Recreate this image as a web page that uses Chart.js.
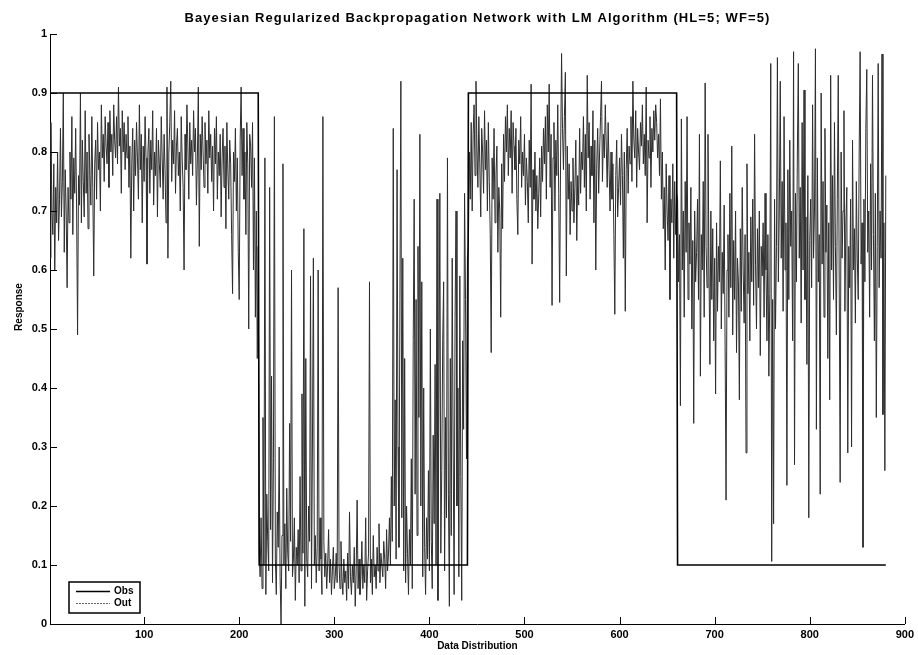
<!DOCTYPE html>
<html><head><meta charset="utf-8">
<script src="https://cdn.jsdelivr.net/npm/chart.js@4.4.1/dist/chart.umd.min.js"></script>
<style>html,body{margin:0;padding:0;background:#fff;}#wrap{width:918px;height:655px;position:relative;}</style>
</head><body><div id="wrap"><canvas id="c" width="918" height="655"></canvas></div>
<script>
const chartTitle = "Bayesian Regularized Backpropagation Network with LM Algorithm (HL=5; WF=5)";
const xTitle = "Data Distribution";
const yTitle = "Response";
const xTicks = [100, 200, 300, 400, 500, 600, 700, 800, 900];
const yTicks = [0, 0.1, 0.2, 0.3, 0.4, 0.5, 0.6, 0.7, 0.8, 0.9, 1];
const yTickLabels = ["0", "0.1", "0.2", "0.3", "0.4", "0.5", "0.6", "0.7", "0.8", "0.9", "1"];
const seriesNames = ["Obs", "Out"];

// Observed (target) step series: vertices
const obsX = [1, 220, 221, 440, 441, 660, 661, 880];
const obsY = [0.9, 0.9, 0.1, 0.1, 0.9, 0.9, 0.1, 0.1];

// Network output, x = 1..220
const outSeg1 = [
0.62,0.85,0.70,0.66,0.78,0.60,0.74,0.68,0.80,0.65,
0.72,0.84,0.69,0.75,0.90,0.63,0.77,0.70,0.57,0.74,
0.68,0.80,0.72,0.86,0.66,0.79,0.73,0.84,0.70,0.49,
0.76,0.71,0.90,0.68,0.82,0.75,0.69,0.87,0.73,0.80,
0.67,0.83,0.76,0.71,0.86,0.74,0.59,0.78,0.82,0.72,
0.85,0.77,0.80,0.70,0.88,0.79,0.83,0.75,0.86,0.81,
0.78,0.85,0.74,0.87,0.80,0.83,0.76,0.88,0.82,0.79,
0.86,0.78,0.91,0.81,0.84,0.73,0.87,0.80,0.85,0.77,
0.83,0.79,0.86,0.74,0.81,0.62,0.78,0.84,0.70,0.82,
0.76,0.85,0.79,0.72,0.88,0.77,0.83,0.68,0.81,0.75,
0.86,0.79,0.61,0.80,0.84,0.73,0.82,0.77,0.87,0.71,
0.80,0.76,0.84,0.69,0.82,0.78,0.74,0.86,0.79,0.72,
0.83,0.77,0.68,0.91,0.62,0.80,0.85,0.92,0.75,0.82,
0.78,0.87,0.73,0.81,0.84,0.76,0.80,0.70,0.86,0.79,
0.74,0.60,0.83,0.77,0.88,0.81,0.72,0.85,0.78,0.82,
0.76,0.87,0.80,0.84,0.71,0.79,0.91,0.64,0.83,0.77,
0.86,0.80,0.74,0.85,0.78,0.82,0.73,0.87,0.79,0.83,
0.75,0.81,0.70,0.84,0.78,0.86,0.72,0.80,0.76,0.83,
0.69,0.79,0.84,0.74,0.81,0.67,0.85,0.77,0.72,0.82,
0.78,0.66,0.56,0.80,0.75,0.84,0.70,0.79,0.63,0.55,
0.82,0.91,0.76,0.84,0.72,0.80,0.66,0.85,0.78,0.50,
0.83,0.81,0.74,0.85,0.60,0.79,0.52,0.70,0.45,0.64
];
// x = 221..440
const outSeg2 = [
0.12,0.08,0.18,0.06,0.35,0.10,0.79,0.05,0.22,0.14,
0.09,0.74,0.16,0.42,0.07,0.28,0.86,0.11,0.05,0.19,
0.13,0.30,0.08,0.00,0.15,0.78,0.10,0.17,0.06,0.23,
0.12,0.09,0.34,0.14,0.60,0.08,0.11,0.18,0.04,0.13,
0.10,0.16,0.07,0.25,0.09,0.39,0.12,0.67,0.03,0.45,
0.11,0.08,0.20,0.14,0.59,0.06,0.30,0.62,0.10,0.15,
0.07,0.13,0.60,0.09,0.18,0.11,0.05,0.86,0.14,0.08,
0.12,0.06,0.10,0.16,0.07,0.11,0.05,0.09,0.13,0.06,
0.08,0.12,0.07,0.57,0.10,0.06,0.14,0.08,0.05,0.11,
0.07,0.09,0.04,0.12,0.06,0.19,0.08,0.05,0.10,0.07,
0.13,0.03,0.09,0.21,0.06,0.11,0.05,0.08,0.14,0.06,
0.10,0.07,0.18,0.04,0.09,0.12,0.58,0.07,0.11,0.05,
0.15,0.08,0.10,0.06,0.13,0.09,0.17,0.07,0.12,0.10,
0.08,0.14,0.11,0.06,0.16,0.09,0.12,0.18,0.10,0.25,
0.14,0.84,0.20,0.38,0.11,0.77,0.30,0.13,0.55,0.92,
0.18,0.62,0.09,0.45,0.07,0.20,0.12,0.05,0.16,0.10,
0.28,0.06,0.48,0.72,0.22,0.55,0.15,0.64,0.35,0.83,
0.20,0.58,0.08,0.40,0.13,0.05,0.18,0.11,0.26,0.09,
0.50,0.14,0.06,0.32,0.17,0.44,0.10,0.72,0.04,0.38,
0.73,0.12,0.26,0.48,0.58,0.09,0.35,0.18,0.79,0.22,
0.03,0.45,0.15,0.62,0.30,0.05,0.52,0.70,0.20,0.40,
0.08,0.59,0.25,0.04,0.48,0.33,0.73,0.55,0.28,0.62
];
// x = 441..660
const outSeg3 = [
0.64,0.80,0.72,0.85,0.70,0.83,0.88,0.76,0.92,0.81,
0.74,0.86,0.78,0.69,0.84,0.80,0.73,0.87,0.77,0.82,
0.70,0.85,0.75,0.66,0.46,0.79,0.72,0.84,0.68,0.76,
0.81,0.63,0.74,0.70,0.52,0.78,0.67,0.83,0.75,0.86,
0.80,0.88,0.76,0.84,0.79,0.87,0.73,0.85,0.81,0.77,
0.84,0.72,0.66,0.82,0.78,0.86,0.74,0.80,0.76,0.83,
0.71,0.79,0.75,0.68,0.82,0.74,0.915,0.61,0.77,0.72,
0.80,0.70,0.76,0.67,0.73,0.79,0.69,0.81,0.75,0.84,
0.78,0.86,0.72,0.88,0.80,0.915,0.74,0.83,0.54,0.79,
0.85,0.70,0.82,0.76,0.88,0.73,0.545,0.80,0.967,0.84,
0.77,0.86,0.935,0.59,0.81,0.72,0.78,0.66,0.75,0.70,
0.79,0.68,0.74,0.82,0.65,0.76,0.71,0.84,0.73,0.80,
0.77,0.86,0.74,0.83,0.70,0.93,0.79,0.85,0.72,0.81,
0.76,0.87,0.68,0.82,0.60,0.78,0.84,0.73,0.80,0.86,
0.92,0.75,0.83,0.79,0.88,0.81,0.74,0.85,0.77,0.70,
0.80,0.72,0.78,0.66,0.525,0.76,0.82,0.69,0.74,0.79,
0.71,0.83,0.76,0.62,0.80,0.53,0.77,0.84,0.73,0.81,
0.78,0.86,0.75,0.92,0.82,0.79,0.87,0.74,0.84,0.80,
0.77,0.85,0.81,0.88,0.78,0.83,0.76,0.91,0.68,0.82,
0.79,0.86,0.74,0.84,0.80,0.87,0.82,0.88,0.85,0.79,
0.83,0.76,0.89,0.72,0.80,0.67,0.74,0.60,0.78,0.70,
0.65,0.76,0.55,0.72,0.68,0.78,0.62,0.75,0.66,0.73
];
// x = 661..880
const outSeg4 = [
0.72,0.58,0.66,0.37,0.856,0.60,0.70,0.52,0.75,0.63,
0.86,0.55,0.68,0.61,0.74,0.50,0.65,0.34,0.70,0.58,
0.63,0.72,0.55,0.83,0.42,0.66,0.60,0.75,0.52,0.917,
0.64,0.57,0.83,0.61,0.44,0.70,0.55,0.67,0.48,0.62,
0.39,0.68,0.53,0.64,0.58,0.785,0.50,0.63,0.56,0.71,
0.47,0.21,0.60,0.66,0.52,0.73,0.57,0.81,0.49,0.65,
0.55,0.70,0.46,0.62,0.58,0.38,0.67,0.53,0.74,0.60,
0.51,0.66,0.29,0.78,0.56,0.63,0.48,0.69,0.58,0.72,
0.54,0.83,0.61,0.50,0.67,0.57,0.70,0.455,0.64,0.59,
0.68,0.52,0.73,0.60,0.48,0.66,0.42,0.56,0.95,0.106,
0.55,0.17,0.72,0.50,0.64,0.96,0.58,0.70,0.92,0.62,
0.75,0.53,0.86,0.60,0.68,0.235,0.77,0.55,0.82,0.64,
0.70,0.48,0.97,0.27,0.73,0.58,0.80,0.95,0.62,0.74,
0.51,0.85,0.60,0.905,0.55,0.69,0.44,0.76,0.18,0.65,
0.72,0.57,0.88,0.62,0.70,0.975,0.33,0.79,0.58,0.66,
0.22,0.90,0.61,0.75,0.52,0.84,0.63,0.71,0.45,0.68,
0.38,0.93,0.60,0.76,0.55,0.85,0.64,0.49,0.72,0.93,
0.58,0.24,0.80,0.62,0.70,0.87,0.53,0.68,0.74,0.29,
0.64,0.57,0.72,0.30,0.82,0.60,0.67,0.51,0.75,0.62,
0.55,0.80,0.97,0.61,0.68,0.13,0.72,0.58,0.84,0.94,
0.63,0.70,0.52,0.78,0.60,0.93,0.66,0.48,0.73,0.35,
0.64,0.95,0.57,0.70,0.62,0.966,0.355,0.68,0.26,0.76
];
const outSegments = [outSeg1, outSeg2, outSeg3, outSeg4];
const outSegStart = [1, 221, 441, 661];

const FONT = "'Liberation Sans', Arial, sans-serif";

const obsPoints = obsX.map((x, i) => ({ x: x, y: obsY[i] }));
const outPoints = [];
outSegments.forEach((seg, s) => seg.forEach((v, i) => outPoints.push({ x: outSegStart[s] + i, y: v })));

const decorPlugin = {
  id: 'decor',
  afterDraw(chart) {
    const ctx = chart.ctx, ca = chart.chartArea;
    const xs = chart.scales.x, ys = chart.scales.y;
    ctx.save();
    // inward tick marks
    ctx.strokeStyle = '#000'; ctx.lineWidth = 1;
    ctx.beginPath();
    xTicks.forEach(v => {
      const px = Math.round(xs.getPixelForValue(v)) + 0.5;
      ctx.moveTo(px, ca.bottom); ctx.lineTo(px, ca.bottom - 7);
    });
    yTicks.forEach(v => {
      const py = Math.round(ys.getPixelForValue(v)) + 0.5;
      ctx.moveTo(ca.left, py); ctx.lineTo(ca.left + 7, py);
    });
    ctx.stroke();
    // title
    ctx.fillStyle = '#000';
    ctx.font = 'bold 13px ' + FONT;
    ctx.textAlign = 'center'; ctx.textBaseline = 'middle';
    if ('letterSpacing' in ctx) ctx.letterSpacing = '1.1px';
    ctx.fillText(chartTitle, (ca.left + ca.right) / 2, 18);
    if ('letterSpacing' in ctx) ctx.letterSpacing = '0px';
    // y title
    ctx.save();
    ctx.translate(19, 307);
    ctx.rotate(-Math.PI / 2);
    ctx.font = 'bold 10px ' + FONT;
    ctx.fillText(yTitle, 0, 0);
    ctx.restore();
    // legend box
    const lx = 69, ly = 582, lw = 71, lh = 31;
    ctx.fillStyle = '#fff';
    ctx.fillRect(lx, ly, lw, lh);
    ctx.lineWidth = 1.5; ctx.strokeStyle = '#000';
    ctx.strokeRect(lx, ly, lw, lh);
    ctx.beginPath(); ctx.lineWidth = 1.5; ctx.moveTo(76, 591.5); ctx.lineTo(110, 591.5); ctx.stroke();
    ctx.beginPath(); ctx.lineWidth = 1; ctx.strokeStyle = '#666'; ctx.setLineDash([2, 1]);
    ctx.moveTo(76, 603.5); ctx.lineTo(110, 603.5); ctx.stroke();
    ctx.setLineDash([]);
    ctx.fillStyle = '#000'; ctx.font = 'bold 10px ' + FONT; ctx.textAlign = 'left';
    ctx.fillText(seriesNames[0], 114, 591.5);
    ctx.fillText(seriesNames[1], 114, 603.5);
    ctx.restore();
  }
};

new Chart(document.getElementById('c'), {
  type: 'line',
  data: {
    datasets: [
      { label: seriesNames[0], data: obsPoints, borderColor: '#000', borderWidth: 1.6, pointRadius: 0, tension: 0, fill: false },
      { label: seriesNames[1], data: outPoints, borderColor: '#2e2e2e', borderWidth: 1, pointRadius: 0, tension: 0, fill: false }
    ]
  },
  options: {
    responsive: false,
    animation: false,
    events: [],
    layout: { padding: { top: 34, right: 13, left: 0, bottom: 0 } },
    plugins: { legend: { display: false }, tooltip: { enabled: false }, title: { display: false } },
    scales: {
      x: {
        type: 'linear', min: 1, max: 900,
        afterBuildTicks: s => { s.ticks = xTicks.map(v => ({ value: v })); },
        afterFit: s => { s.height = 31; },
        grid: { display: false, drawTicks: false },
        border: { display: true, color: '#000', width: 1 },
        ticks: { color: '#000', font: { family: FONT, size: 11, weight: 'bold' }, padding: 4, maxRotation: 0, autoSkip: false },
        title: { display: true, text: xTitle, color: '#000', font: { family: FONT, size: 10, weight: 'bold' }, padding: { top: 0, bottom: 3 } }
      },
      y: {
        type: 'linear', min: 0, max: 1,
        afterBuildTicks: s => { s.ticks = yTicks.map(v => ({ value: v })); },
        afterFit: s => { s.width = 50; },
        grid: { display: false, drawTicks: false },
        border: { display: true, color: '#000', width: 1 },
        ticks: { color: '#000', font: { family: FONT, size: 11, weight: 'bold' }, padding: 3, autoSkip: false,
                 callback: (v, i) => yTickLabels[i] },
        title: { display: false }
      }
    }
  },
  plugins: [decorPlugin]
});
</script></body></html>
